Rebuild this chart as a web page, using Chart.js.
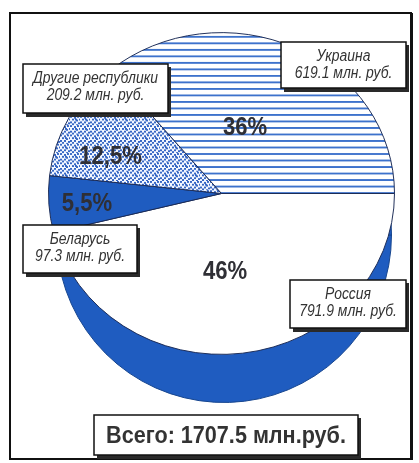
<!DOCTYPE html>
<html>
<head>
    <meta charset="utf-8">
    <title>Всего: 1707.5 млн.руб.</title>
    <script src="https://cdn.jsdelivr.net/npm/chart.js@4/dist/chart.umd.min.js"></script>
    <style>
        body { margin: 0; background: #fff; }
        #holder { position: relative; width: 419px; height: 463px; }
        #holder canvas { position: absolute; left: 0; top: 0; }
    </style>
</head>
<body>
    <div id="holder">
        <canvas id="depth" width="419" height="463"></canvas>
        <canvas id="pie" width="419" height="463"></canvas>
    </div>

    <script>
		// data
		var republics = ['Россия', 'Беларусь', 'Другие республики', 'Украина'];
		var amounts = [791.9, 97.3, 209.2, 619.1];
		var shares = ['46%', '5,5%', '12,5%', '36%'];
		var unit = 'млн. руб.';
		var totalText = 'Всего: 1707.5 млн.руб.';

		// layout of the callout boxes (x, y, w, h) and where the % sits inside each slice
		var boxes = [
			[290, 280, 116, 48],
			[23, 225, 114, 48],
			[23, 64, 145, 49],
			[281, 42, 125, 46]
		];
		var shareRadius = [0.49, 0.78, 0.68, 0.43];
		var shareTurn = [0.08, -0.014, -0.155, -0.117];

		var squash = 0.93; // the top face is a slightly flattened disc
		var blue = '#1f5cc0';
		var edge = '#1b2b55';
		var font = '"Liberation Sans", Arial, sans-serif';

		function stripes() {
			var c = document.createElement('canvas');
			c.width = 8; c.height = 7;
			var x = c.getContext('2d');
			x.fillStyle = '#fff';
			x.fillRect(0, 0, 8, 7);
			x.fillStyle = '#3d72cc';
			x.fillRect(0, 3, 8, 2);
			return x.createPattern(c, 'repeat');
		}

		function stipple() {
			var c = document.createElement('canvas');
			c.width = 10; c.height = 10;
			var x = c.getContext('2d');
			x.fillStyle = '#f4f7ff';
			x.fillRect(0, 0, 10, 10);
			x.fillStyle = '#3767c4';
			var dots = [[0,0],[4,1],[7,0],[2,3],[6,4],[9,3],[0,6],[4,6],[8,7],[2,8],[6,9],[5,3]];
			dots.forEach(function (d) { x.fillRect(d[0], d[1], 2, 2); });
			return x.createPattern(c, 'repeat');
		}

		// condensed text: squeeze horizontally around the anchor
		function squeezed(ctx, text, x, y, sx) {
			ctx.save();
			ctx.translate(x, y);
			ctx.scale(sx, 1);
			ctx.fillText(text, 0, 0);
			ctx.restore();
		}

		var framePlugin = {
			id: 'frame',
			beforeDraw: function (chart) {
				var ctx = chart.ctx;
				ctx.save();
				ctx.strokeStyle = '#111';
				ctx.lineWidth = 2;
				ctx.strokeRect(10, 13, 401, 446);
				ctx.lineWidth = 3;
				ctx.beginPath();
				ctx.moveTo(411.5, 13); ctx.lineTo(411.5, 460);
				ctx.stroke();
				ctx.restore();
			}
		};

		var flattenPlugin = {
			id: 'flatten',
			beforeDatasetsDraw: function (chart) {
				var a = chart.chartArea;
				var cy = (a.top + a.bottom) / 2;
				chart.ctx.save();
				chart.ctx.translate(0, cy);
				chart.ctx.scale(1, squash);
				chart.ctx.translate(0, -cy);
			},
			afterDatasetsDraw: function (chart) {
				chart.ctx.restore();
			}
		};

		function box(ctx, x, y, w, h) {
			ctx.fillStyle = '#2a2a2a';
			ctx.fillRect(x + 3, y + 3, w, h + 1);
			ctx.fillStyle = '#fff';
			ctx.fillRect(x, y, w, h);
			ctx.strokeStyle = '#111';
			ctx.lineWidth = 1.5;
			ctx.strokeRect(x, y, w, h);
		}

		var labelPlugin = {
			id: 'labels',
			afterDraw: function (chart) {
				var ctx = chart.ctx;
				var arcs = chart.getDatasetMeta(0).data;
				ctx.save();
				ctx.textAlign = 'center';
				ctx.textBaseline = 'middle';

				// percentages inside the slices
				arcs.forEach(function (arc, i) {
					var p = arc.getProps(['x', 'y', 'startAngle', 'endAngle', 'outerRadius'], true);
					var mid = (p.startAngle + p.endAngle) / 2 + shareTurn[i];
					var r = p.outerRadius * shareRadius[i];
					ctx.font = 'bold 26px ' + font;
					ctx.fillStyle = '#2f2f35';
					squeezed(ctx, shares[i], p.x + Math.cos(mid) * r, p.y + Math.sin(mid) * r * squash, 0.85);
				});

				// callout boxes
				republics.forEach(function (name, i) {
					var b = boxes[i];
					box(ctx, b[0], b[1], b[2], b[3]);
					ctx.fillStyle = '#333';
					ctx.font = 'italic 16px ' + font;
					squeezed(ctx, name, b[0] + b[2] / 2, b[1] + 15, 0.87);
					squeezed(ctx, amounts[i].toFixed(1) + ' ' + unit, b[0] + b[2] / 2, b[1] + 32, 0.87);
				});

				// total
				box(ctx, 94, 415, 264, 40);
				ctx.fillStyle = '#333';
				ctx.font = 'bold 24px ' + font;
				squeezed(ctx, totalText, 226, 436, 0.9);
				ctx.restore();
			}
		};

		window.onload = function () {
			new Chart(document.getElementById('depth').getContext('2d'), {
				type: 'pie',
				data: {
					labels: republics,
					datasets: [{
						data: amounts,
						backgroundColor: blue,
						borderColor: '#17468f',
						borderWidth: 1
					}]
				},
				options: {
					responsive: false,
					animation: false,
					rotation: 90,
					layout: { padding: { left: 56, right: 27, top: 67, bottom: 60 } },
					plugins: { legend: { display: false }, tooltip: { enabled: false } }
				},
				plugins: [framePlugin]
			});

			new Chart(document.getElementById('pie').getContext('2d'), {
				type: 'pie',
				data: {
					labels: republics,
					datasets: [{
						data: amounts,
						backgroundColor: ['#ffffff', blue, stipple(), stripes()],
						borderColor: edge,
						borderWidth: 1
					}]
				},
				options: {
					responsive: false,
					animation: false,
					rotation: 90,
					layout: { padding: { left: 48, right: 24, top: 20, bottom: 96 } },
					plugins: { legend: { display: false }, tooltip: { enabled: false } }
				},
				plugins: [flattenPlugin, labelPlugin]
			});
		};
    </script>
</body>
</html>
